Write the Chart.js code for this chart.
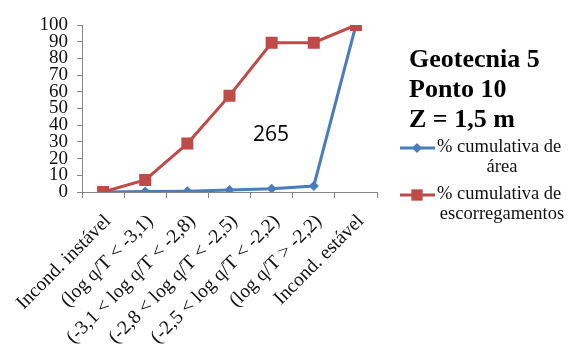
<!DOCTYPE html>
<html>
<head>
<meta charset="utf-8">
<script src="https://cdn.jsdelivr.net/npm/chart.js@4/dist/chart.umd.min.js"></script>
<style>
  html, body { margin: 0; padding: 0; background: #fff; }
  #wrap { position: relative; width: 571px; height: 347px; }
</style>
</head>
<body>
<div id="wrap"><canvas id="geoChart" width="571" height="347"></canvas></div>
<script>
// classes de log q/T
const categories = [
  'Incond. instável',
  '(log q/T < -3,1)',
  '(-3,1 < log q/T < -2,8)',
  '(-2,8 < log q/T < -2,5)',
  '(-2,5 < log q/T < -2,2)',
  '(log q/T > -2,2)',
  'Incond. estável'
];
const areaCum = [0, 0.3, 0.5, 1.2, 2, 3.6, 100];
const escCum = [0, 7.2, 29, 57.7, 89.4, 89.4, 100];
const yTicks = [0, 10, 20, 30, 40, 50, 60, 70, 80, 90, 100];
const titleLines = ['Geotecnia 5', 'Ponto 10', 'Z = 1,5 m'];
const seriesNames = [['% cumulativa de', 'área'], ['% cumulativa de', 'escorregamentos']];
const areaLabel = '265';

const BLUE = '#4A7EBB';
const RED = '#BE4B48';
const AXIS = '#868686';
const SERIF = "'Liberation Serif', 'DejaVu Serif', serif";

// title, legend and the number in the middle
const sidePanel = {
  id: 'sidePanel',
  afterDraw(chart) {
    const c = chart.ctx;
    c.save();
    c.fillStyle = '#000';
    c.font = 'bold 26px ' + SERIF;
    c.textAlign = 'left';
    c.textBaseline = 'alphabetic';
    titleLines.forEach((t, i) => c.fillText(t, 409, 67 + i * 30));

    const entries = [
      { color: BLUE, style: 'rectRot', r: 5, y: 148 },
      { color: RED, style: 'rect', r: 8, y: 195 }
    ];
    entries.forEach((e, i) => {
      c.strokeStyle = e.color;
      c.lineWidth = 3;
      c.beginPath();
      c.moveTo(400, e.y);
      c.lineTo(435, e.y);
      c.stroke();
      c.fillStyle = e.color;
      Chart.helpers.drawPoint(c, { pointStyle: e.style, radius: e.r, borderWidth: 0 }, 417, e.y);
      c.fillStyle = '#111';
      c.font = '18.5px ' + SERIF;
      c.textAlign = 'left';
      c.fillText(seriesNames[i][0], 437, e.y + 4);
      c.textAlign = 'center';
      c.fillText(seriesNames[i][1], 502, e.y + 24);
    });

    c.fillStyle = '#000';
    c.font = "21px 'Open Sans', sans-serif";
    c.textAlign = 'center';
    c.textBaseline = 'middle';
    c.fillText(areaLabel, 271, 135);
    c.restore();
  }
};

new Chart(document.getElementById('geoChart'), {
  type: 'line',
  data: {
    labels: categories,
    datasets: [
      {
        label: seriesNames[0].join(' '),
        data: areaCum,
        borderColor: BLUE,
        backgroundColor: BLUE,
        borderWidth: 3,
        pointStyle: 'rectRot',
        pointRadius: 5,
        pointBorderWidth: 0,
        tension: 0,
        order: 2
      },
      {
        label: seriesNames[1].join(' '),
        data: escCum,
        borderColor: RED,
        backgroundColor: RED,
        borderWidth: 3,
        pointStyle: 'rect',
        pointRadius: 8.5,
        pointBorderWidth: 0,
        tension: 0,
        order: 1
      }
    ]
  },
  options: {
    responsive: false,
    animation: false,
    layout: { padding: { top: 25, right: 194, left: 0, bottom: 0 } },
    plugins: { legend: { display: false }, tooltip: { enabled: false } },
    scales: {
      x: {
        offset: true,
        afterFit: s => { s.height = 155; s.paddingLeft = 0; s.paddingRight = 0; },
        grid: { offset: true, drawOnChartArea: false, drawTicks: true, tickLength: 6, color: AXIS },
        border: { color: AXIS, width: 1 },
        ticks: {
          autoSkip: false,
          minRotation: 45,
          maxRotation: 45,
          padding: 12,
          labelOffset: 5,
          color: '#111',
          font: { family: SERIF, size: 19.5 }
        }
      },
      y: {
        min: 0,
        max: 100,
        afterFit: s => { s.width = 82; },
        afterBuildTicks: s => { s.ticks = yTicks.map(v => ({ value: v })); },
        grid: { drawOnChartArea: false, drawTicks: true, tickLength: 5, color: AXIS },
        border: { color: AXIS, width: 1 },
        ticks: {
          autoSkip: false,
          padding: 9,
          color: '#111',
          font: { family: SERIF, size: 19 }
        }
      }
    }
  },
  plugins: [sidePanel]
});
</script>
</body>
</html>
